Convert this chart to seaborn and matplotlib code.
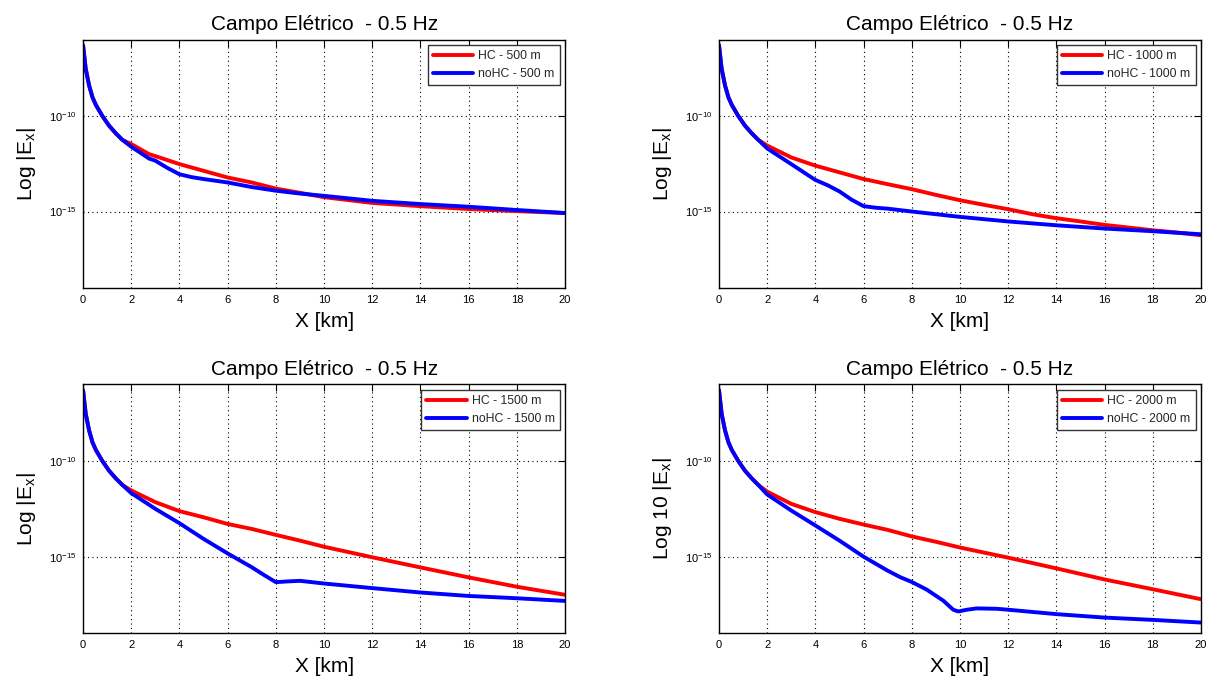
import matplotlib
matplotlib.use("Agg")
import matplotlib.pyplot as plt
import numpy as np
import pandas as pd
import seaborn as sns
from matplotlib.ticker import FixedLocator, LogFormatterSciNotation, NullLocator

# ---------------------------------------------------------------------------
# Data: offset X [km] and log10 |Ex| for each target depth
# ---------------------------------------------------------------------------
# near-source decay, common to every model
x_near = [0.0, 0.11, 0.25, 0.39, 0.53, 0.8, 1.08, 1.36, 1.63]
log_near = [-6.30, -7.53, -8.40, -9.02, -9.42, -10.0, -10.51, -10.91, -11.25]

# 500 m
x_hc_500 = [2.0, 2.74, 3.0, 4.0, 5.0, 6.0, 7.0, 8.0, 9.0, 10.0, 12.0, 14.0, 16.0, 18.0, 20.0]
log_hc_500 = [-11.47, -12.0, -12.10, -12.52, -12.87, -13.22, -13.48, -13.80, -14.02, -14.25,
              -14.55, -14.72, -14.87, -14.98, -15.08]
x_no_500 = [2.0, 2.74, 3.0, 3.5, 4.0, 4.5, 5.0, 6.0, 7.0, 8.0, 9.0, 10.0, 12.0, 14.0, 16.0, 18.0, 20.0]
log_no_500 = [-11.61, -12.23, -12.34, -12.72, -13.05, -13.20, -13.30, -13.48, -13.72, -13.91,
              -14.06, -14.18, -14.44, -14.61, -14.75, -14.92, -15.08]

# 1000 m
x_hc_1000 = [2.0, 3.0, 4.0, 5.0, 6.0, 7.0, 8.0, 9.0, 10.0, 11.0, 12.0, 13.0, 14.0, 15.0,
             16.0, 17.0, 18.0, 19.0, 20.0]
log_hc_1000 = [-11.55, -12.17, -12.60, -12.95, -13.30, -13.57, -13.83, -14.13, -14.41, -14.65,
               -14.88, -15.14, -15.35, -15.52, -15.70, -15.84, -15.98, -16.10, -16.24]
x_no_1000 = [2.0, 3.0, 4.0, 4.5, 5.0, 5.5, 6.0, 6.5, 7.0, 8.0, 9.0, 10.0, 12.0, 14.0, 16.0, 18.0, 20.0]
log_no_1000 = [-11.70, -12.52, -13.35, -13.62, -13.95, -14.38, -14.72, -14.80, -14.85, -15.0,
               -15.14, -15.28, -15.52, -15.72, -15.89, -16.03, -16.19]

# 1500 m
x_hc_1500 = [2.0, 3.0, 4.0, 5.0, 6.0, 7.0, 8.0, 9.0, 10.0, 12.0, 14.0, 16.0, 18.0, 20.0]
log_hc_1500 = [-11.54, -12.15, -12.62, -12.94, -13.29, -13.55, -13.86, -14.16, -14.48, -15.03,
               -15.56, -16.08, -16.57, -16.99]
x_no_1500 = [2.0, 3.0, 4.0, 5.0, 6.0, 7.0, 7.5, 8.0, 8.5, 9.0, 10.0, 12.0, 14.0, 16.0, 18.0, 20.0]
log_no_1500 = [-11.68, -12.50, -13.25, -14.07, -14.83, -15.55, -15.95, -16.33, -16.29, -16.26,
               -16.40, -16.64, -16.87, -17.05, -17.17, -17.31]

# 2000 m
x_hc_2000 = [2.0, 3.0, 4.0, 5.0, 6.0, 7.0, 8.0, 9.0, 10.0, 12.0, 14.0, 16.0, 18.0, 20.0]
log_hc_2000 = [-11.60, -12.24, -12.67, -13.02, -13.32, -13.60, -13.94, -14.22, -14.52, -15.05,
               -15.61, -16.19, -16.70, -17.22]
x_no_2000 = [2.0, 3.0, 4.0, 5.0, 6.0, 7.0, 7.52, 8.0, 8.62, 9.31, 9.72, 9.93, 10.28, 10.7,
             11.52, 12.0, 14.0, 16.0, 18.0, 20.0]
log_no_2000 = [-11.75, -12.59, -13.37, -14.16, -15.0, -15.73, -16.07, -16.32, -16.72, -17.30,
               -17.77, -17.86, -17.77, -17.70, -17.72, -17.77, -18.0, -18.18, -18.30, -18.44]

depths = ["500", "1000", "1500", "2000"]
x_ticks = [0, 2, 4, 6, 8, 10, 12, 14, 16, 18, 20]
y_ticks = [1e-15, 1e-10]
title_text = "Campo Elétrico  - 0.5 Hz"
ylabels = [r"Log |E$_\mathregular{x}$|", r"Log |E$_\mathregular{x}$|",
           r"Log |E$_\mathregular{x}$|", r"Log 10 |E$_\mathregular{x}$|"]

series = {
    "500": (x_hc_500, log_hc_500, x_no_500, log_no_500),
    "1000": (x_hc_1000, log_hc_1000, x_no_1000, log_no_1000),
    "1500": (x_hc_1500, log_hc_1500, x_no_1500, log_no_1500),
    "2000": (x_hc_2000, log_hc_2000, x_no_2000, log_no_2000),
}

# ---------------------------------------------------------------------------
# Style
# ---------------------------------------------------------------------------
sns.set_theme(style="white")
plt.rcParams["font.family"] = ["Liberation Sans", "DejaVu Sans"]
plt.rcParams["mathtext.fontset"] = "custom"
plt.rcParams["mathtext.rm"] = "Liberation Sans"
plt.rcParams["mathtext.it"] = "Liberation Sans:italic"
plt.rcParams["mathtext.bf"] = "Liberation Sans:bold"

fig = plt.figure(figsize=(12.09, 6.80), dpi=100)
fig.patch.set_facecolor("white")

positions = [
    (0.0687, 0.5765, 0.3987, 0.3654),
    (0.5947, 0.5765, 0.3987, 0.3654),
    (0.0687, 0.0687, 0.3987, 0.3660),
    (0.5947, 0.0687, 0.3987, 0.3660),
]

for i, depth in enumerate(depths):
    ax = fig.add_axes(positions[i])
    x_hc, l_hc, x_no, l_no = series[depth]
    lab_hc = f"HC - {depth} m"
    lab_no = f"noHC - {depth} m"
    df = pd.concat([
        pd.DataFrame({"X": x_near + x_hc, "Ex": 10.0 ** np.array(log_near + l_hc), "serie": lab_hc}),
        pd.DataFrame({"X": x_near + x_no, "Ex": 10.0 ** np.array(log_near + l_no), "serie": lab_no}),
    ], ignore_index=True)

    sns.lineplot(data=df, x="X", y="Ex", hue="serie", palette=["#ff0000", "#0000ff"],
                 estimator=None, sort=False, linewidth=2.8, ax=ax)

    ax.set_yscale("log")
    ax.set_xlim(0, 20)
    ax.set_ylim(1e-19, 1e-6)
    ax.xaxis.set_major_locator(FixedLocator(x_ticks))
    ax.yaxis.set_major_locator(FixedLocator(y_ticks))
    ax.yaxis.set_major_formatter(LogFormatterSciNotation())
    ax.yaxis.set_minor_locator(NullLocator())
    ax.xaxis.set_minor_locator(NullLocator())

    ax.grid(True, which="major", color="black", linestyle=(0, (1, 3)), linewidth=0.8)
    ax.tick_params(direction="in", length=5, width=0.8, top=True, right=True,
                   labelsize=8, pad=5, colors="black")
    for sp in ax.spines.values():
        sp.set_color("black")
        sp.set_linewidth(1.0)

    ax.set_title(title_text, fontsize=15, pad=7, color="black")
    ax.set_xlabel("X [km]", fontsize=15, labelpad=5, color="black")
    ax.set_ylabel(ylabels[i], fontsize=15, labelpad=8, color="black")

    leg = ax.legend(loc="upper right", fontsize=8.8, frameon=True, fancybox=False,
                    framealpha=1.0, edgecolor="#333333", handlelength=3.3,
                    handletextpad=0.4, borderpad=0.4, labelspacing=0.5,
                    borderaxespad=0.45)
    leg.get_frame().set_linewidth(1.0)
    for line in leg.get_lines():
        line.set_linewidth(2.8)

fig.savefig("out.png", dpi=100, facecolor="white")
